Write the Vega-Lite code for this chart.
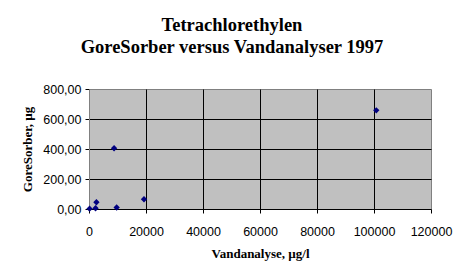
{
  "$schema": "https://vega.github.io/schema/vega-lite/v6.json",
  "width": 342,
  "height": 120,
  "autosize": "none",
  "padding": {"left": 89, "top": 89, "right": 29, "bottom": 71},
  "background": "white",
  "title": {
    "text": ["Tetrachlorethylen", "GoreSorber versus Vandanalyser 1997"],
    "font": "Liberation Serif",
    "fontSize": 18.5,
    "fontWeight": "bold",
    "color": "black",
    "lineHeight": 22,
    "anchor": "middle",
    "dx": -28,
    "offset": 27
  },
  "config": {
    "view": {"fill": "#c0c0c0", "stroke": "#808080", "strokeWidth": 1},
    "axis": {
      "labelFont": "Arial",
      "labelFontSize": 12.5,
      "labelColor": "black",
      "labelOverlap": false,
      "labelBound": false,
      "labelFlush": false,
      "titleFont": "Liberation Serif",
      "titleFontSize": 13,
      "titleFontWeight": "bold",
      "titleColor": "black",
      "tickColor": "black",
      "tickSize": 4,
      "gridWidth": 1,
      "gridOpacity": 1
    }
  },
  "data": {
    "values": [
      {"vand": 200, "gore": 2},
      {"vand": 2300, "gore": 5},
      {"vand": 2600, "gore": 45},
      {"vand": 8800, "gore": 405},
      {"vand": 9700, "gore": 10},
      {"vand": 19300, "gore": 65},
      {"vand": 100800, "gore": 658}
    ]
  },
  "mark": {"type": "point", "shape": "diamond", "filled": true, "color": "#000080", "size": 40, "opacity": 1},
  "encoding": {
    "x": {
      "field": "vand",
      "type": "quantitative",
      "scale": {"domain": [0, 120000], "nice": false},
      "axis": {
        "title": "Vandanalyse, µg/l",
        "values": [0, 20000, 40000, 60000, 80000, 100000, 120000],
        "format": "d",
        "labelPadding": 12,
        "titlePadding": 10,
        "domainColor": "black",
        "gridColor": {"condition": {"test": "datum.value == 0 || datum.value == 120000", "value": "transparent"}, "value": "black"}
      }
    },
    "y": {
      "field": "gore",
      "type": "quantitative",
      "scale": {"domain": [0, 800], "nice": false},
      "axis": {
        "title": "GoreSorber, µg",
        "values": [0, 200, 400, 600, 800],
        "labelExpr": "replace(format(datum.value, '.2f'), '.', ',')",
        "labelPadding": 4,
        "titlePadding": 8,
        "domainColor": "#808080",
        "gridColor": {"condition": {"test": "datum.value == 0 || datum.value == 800", "value": "transparent"}, "value": "black"}
      }
    }
  }
}
